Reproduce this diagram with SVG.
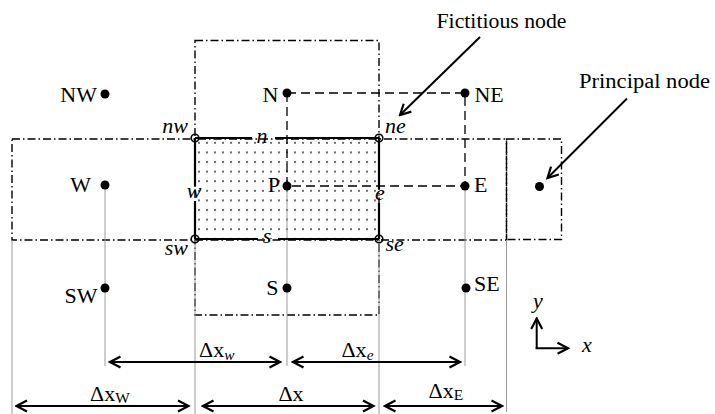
<svg xmlns="http://www.w3.org/2000/svg" width="715" height="414" viewBox="0 0 715 414" font-family="'Liberation Serif', 'DejaVu Serif', serif">
<style>
text{font-family:'Liberation Serif','DejaVu Serif',serif;font-size:20px;fill:#000}
.it{font-style:italic}
.dd{fill:none;stroke:#000;stroke-width:1.4;stroke-dasharray:8 3 1.5 3}
.da{fill:none;stroke:#000;stroke-width:1.3;stroke-dasharray:9 5}
.gr{stroke:#9a9a9a;stroke-width:1;fill:none}
.th{stroke:#000;stroke-width:2.2;fill:none}
.ar{stroke:#000;stroke-width:2.2;fill:none;marker-end:url(#ah);marker-start:url(#ah)}
.ar1{stroke:#000;stroke-width:2;fill:none;marker-end:url(#ah)}
.dot{fill:#000}
.oc{fill:none;stroke:#000;stroke-width:1.6}
</style>
<defs>
<marker id="ah" markerUnits="userSpaceOnUse" viewBox="0 0 14 14" markerWidth="14" markerHeight="14" refX="12" refY="7" orient="auto-start-reverse">
<path d="M1.5,1.5 L12,7 L1.5,12.5" fill="none" stroke="#000" stroke-width="2.2"/>
</marker>
<pattern id="dots" patternUnits="userSpaceOnUse" x="195" y="138" width="8" height="9.6">
<circle cx="4" cy="4.8" r="0.9" fill="#222"/>
</pattern>
</defs>

<g id="cv">
<rect x="195" y="138" width="184" height="101" fill="url(#dots)"/>
</g>

<g id="cells">
<rect class="dd" x="195" y="40.5" width="184" height="274.5"/>
<rect class="dd" x="12" y="139" width="494.5" height="101"/>
<rect class="dd" x="506.5" y="139" width="55" height="100.5"/>
</g>

<g id="connectors">
<path class="da" d="M287,93 H465 V186 M287,93 V186 H465"/>
<path class="gr" d="M12,240 V414 M105,185 V366 M195,239 V414 M287,186 V366 M379,239 V414 M465,186 V366 M506.5,240 V412"/>
<path class="th" d="M195,138 H252 M275,138 H379 M195,239 H258 M278,239 H379 M195,138 V186 M195,201 V239 M379,138 V189 M379,203 V239"/>
<line class="ar" x1="110" y1="362" x2="280" y2="362"/>
<line class="ar" x1="293" y1="362" x2="460" y2="362"/>
<line class="ar" x1="16.5" y1="406" x2="188.5" y2="406"/>
<line class="ar" x1="203" y1="406" x2="373.5" y2="406"/>
<line class="ar" x1="385" y1="406" x2="502" y2="406"/>
<line class="ar1" x1="480" y1="37" x2="400" y2="115"/>
<line class="ar1" x1="627" y1="98.5" x2="547.5" y2="178"/>
<line class="ar1" x1="536.7" y1="348.3" x2="536.7" y2="318.5"/>
<line class="ar1" x1="535.6" y1="348.3" x2="568" y2="348.3"/>
</g>

<g id="node-NW"><circle class="dot" cx="105" cy="94" r="4.5"/><text transform="scale(1.1,1)" x="88.18" y="101.7" text-anchor="end">NW</text></g>
<g id="node-N"><circle class="dot" cx="287" cy="93" r="4.5"/><text transform="scale(1.1,1)" x="253.18" y="101.7" text-anchor="end">N</text></g>
<g id="node-NE"><circle class="dot" cx="465" cy="93" r="4.5"/><text transform="scale(1.1,1)" x="431.36" y="101.7">NE</text></g>
<g id="node-W"><circle class="dot" cx="105" cy="185" r="4.5"/><text transform="scale(1.1,1)" x="82.73" y="191.7" text-anchor="end">W</text></g>
<g id="node-P"><circle class="dot" cx="287" cy="186" r="4.5"/><text transform="scale(1.1,1)" x="254.55" y="191.7" text-anchor="end">P</text></g>
<g id="node-E"><circle class="dot" cx="465" cy="186" r="4.5"/><text transform="scale(1.1,1)" x="430.91" y="192">E</text></g>
<g id="node-SW"><circle class="dot" cx="105" cy="288" r="4.5"/><text transform="scale(1.1,1)" x="88.64" y="303" text-anchor="end">SW</text></g>
<g id="node-S"><circle class="dot" cx="287" cy="288" r="4.5"/><text transform="scale(1.1,1)" x="253.18" y="295" text-anchor="end">S</text></g>
<g id="node-SE"><circle class="dot" cx="466" cy="288" r="4.5"/><text transform="scale(1.1,1)" x="430.91" y="291">SE</text></g>
<g id="node-principal"><circle class="dot" cx="539.5" cy="186.5" r="4.5"/></g>

<g id="corner-nw"><circle class="oc" cx="195" cy="138" r="3.8"/><text class="it" transform="scale(1.1,1)" x="170.91" y="132.7" text-anchor="end">nw</text></g>
<g id="corner-ne"><circle class="oc" cx="379" cy="138" r="3.8"/><text class="it" transform="scale(1.1,1)" x="350" y="132.7">ne</text></g>
<g id="corner-sw"><circle class="oc" cx="195" cy="239" r="3.8"/><text class="it" transform="scale(1.1,1)" x="170.91" y="255" text-anchor="end">sw</text></g>
<g id="corner-se"><circle class="oc" cx="379" cy="239" r="3.8"/><text class="it" transform="scale(1.1,1)" x="350.45" y="251">se</text></g>

<g id="face-labels">
<text class="it" transform="scale(1.1,1)" x="238.18" y="143.3" text-anchor="middle">n</text>
<text class="it" transform="scale(1.1,1)" x="242.73" y="243.3" text-anchor="middle">s</text>
<text class="it" transform="scale(1.1,1)" x="176.36" y="198" text-anchor="middle">w</text>
<text class="it" transform="scale(1.1,1)" x="345.45" y="200" text-anchor="middle">e</text>
</g>

<g id="callouts">
<text x="436.5" y="28" textLength="130" lengthAdjust="spacingAndGlyphs">Fictitious node</text>
<text x="579" y="88" textLength="131" lengthAdjust="spacingAndGlyphs">Principal node</text>
</g>

<g id="dimensions">
<text transform="scale(1.1,1)" x="180.91" y="357">Δx<tspan class="it" font-size="14" dy="3">w</tspan></text>
<text transform="scale(1.1,1)" x="310.45" y="357">Δx<tspan class="it" font-size="14" dy="3">e</tspan></text>
<text transform="scale(1.1,1)" x="81.82" y="401">Δx<tspan font-size="14" dy="2">W</tspan></text>
<text transform="scale(1.1,1)" x="264.55" y="401" text-anchor="middle">Δx</text>
<text transform="scale(1.1,1)" x="389.55" y="398">Δx<tspan font-size="14" dy="2">E</tspan></text>
</g>

<g id="axes">
<text class="it" transform="scale(1.1,1)" x="484.55" y="308">y</text>
<text class="it" transform="scale(1.1,1)" x="529.09" y="351.7">x</text>
</g>
</svg>
